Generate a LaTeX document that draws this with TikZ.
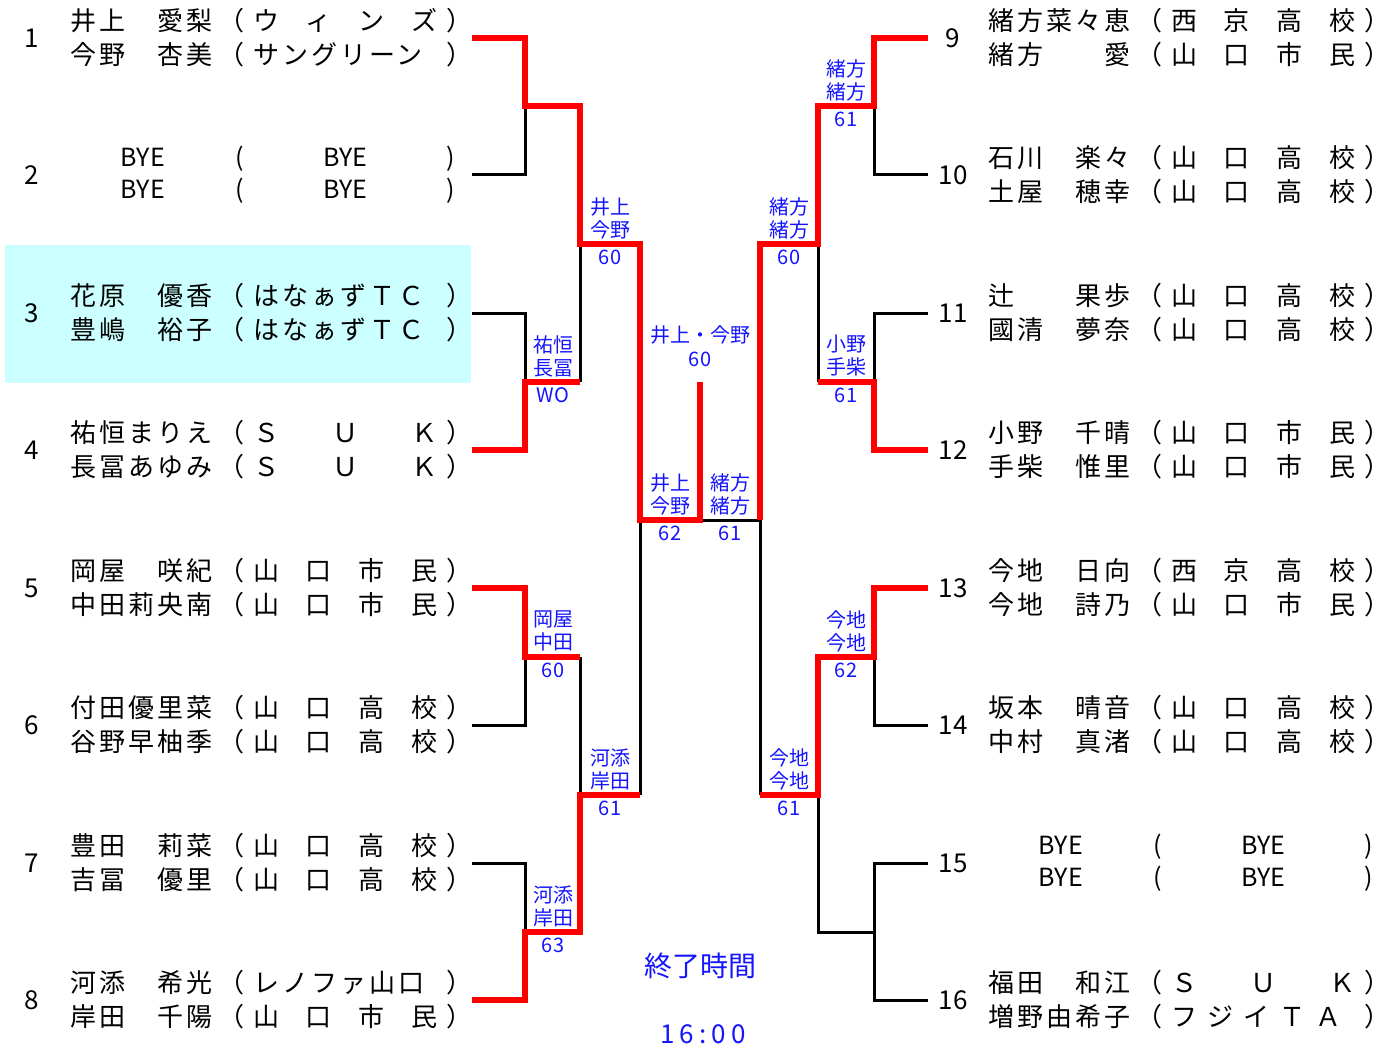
\documentclass[tikz,border=0pt]{standalone}
\usepackage{fontspec}
\usetikzlibrary{positioning}
\setmainfont{Noto Sans CJK JP}
\newfontfamily\jpfont{Noto Sans CJK JP}
\newfontfamily\rowfont{Noto Sans CJK JP}[LetterSpace=11.5]
\definecolor{wincol}{RGB}{255,0,0}
\definecolor{labcol}{RGB}{20,20,255}
\definecolor{seedcol}{RGB}{204,255,255}

% one line of a pair: name, (club)
\newcommand{\pairrow}[2]{\makebox[145pt][l]{#1}\makebox[29pt][r]{（}\hspace{9pt}\makebox[184pt][s]{#2}\hspace{9pt}\makebox[29pt][l]{）}}
\newcommand{\byerow}{\makebox[145pt][c]{BYE}\makebox[29pt][r]{(}\hspace{9pt}\makebox[184pt][c]{BYE}\hspace{9pt}\makebox[29pt][l]{)}}
\newcommand{\shimin}{山\hfill 口\hfill 市\hfill 民}
\newcommand{\yamakou}{山\hfill 口\hfill 高\hfill 校}
\newcommand{\saikyo}{西\hfill 京\hfill 高\hfill 校}
\newcommand{\suk}{Ｓ\hfill Ｕ\hfill Ｋ}

\begin{document}
\begin{tikzpicture}[
    x=1pt, y=-1pt,
    player/.style={anchor=west,align=left,inner sep=0pt,font=\rowfont\fontsize{26}{34}\selectfont},
    byeplayer/.style={player,font=\jpfont\fontsize{25}{32}\selectfont},
    seed/.style={inner sep=0pt,font=\jpfont\fontsize{26}{30}\selectfont},
    lbl/.style={inner sep=0pt,align=center,text=labcol,font=\jpfont\fontsize{20}{23}\selectfont},
    lose/.style={line width=3pt},
    win/.style={line width=6pt,draw=wincol}
  ]
    \useasboundingbox (0,0) rectangle (1394,1051);
    \fill[seedcol] (5,245) rectangle (471,383);

    % left half
    \node[seed] (n1) at (32,38) {1};
    \node[player] (p1) at (70,38) {\pairrow{井上　愛梨}{ウ\hfill ィ\hfill ン\hfill ズ}\\\pairrow{今野　杏美}{サングリーン\hfill}};
    \node[seed] (n2) at (32,175) {2};
    \node[byeplayer] (p2) at (70,175) {\byerow\\\byerow};
    \node[seed] (n3) at (32,313) {3};
    \node[player] (p3) at (70,313) {\pairrow{花原　優香}{はなぁずＴＣ\hfill}\\\pairrow{豊嶋　裕子}{はなぁずＴＣ\hfill}};
    \node[seed] (n4) at (32,450) {4};
    \node[player] (p4) at (70,450) {\pairrow{祐恒まりえ}{\suk}\\\pairrow{長冨あゆみ}{\suk}};
    \node[seed] (n5) at (32,588) {5};
    \node[player] (p5) at (70,588) {\pairrow{岡屋　咲紀}{\shimin}\\\pairrow{中田莉央南}{\shimin}};
    \node[seed] (n6) at (32,725) {6};
    \node[player] (p6) at (70,725) {\pairrow{付田優里菜}{\yamakou}\\\pairrow{谷野早柚季}{\yamakou}};
    \node[seed] (n7) at (32,863) {7};
    \node[player] (p7) at (70,863) {\pairrow{豊田　莉菜}{\yamakou}\\\pairrow{吉冨　優里}{\yamakou}};
    \node[seed] (n8) at (32,1000) {8};
    \node[player] (p8) at (70,1000) {\pairrow{河添　希光}{レノファ山口\hfill}\\\pairrow{岸田　千陽}{\shimin}};

    % right half
    \node[seed] (n9) at (953,38) {9};
    \node[player] (p9) at (988,38) {\pairrow{緒方菜々恵}{\saikyo}\\\pairrow{緒方　　愛}{\shimin}};
    \node[seed] (n10) at (953,175) {10};
    \node[player] (p10) at (988,175) {\pairrow{石川　楽々}{\yamakou}\\\pairrow{土屋　穂幸}{\yamakou}};
    \node[seed] (n11) at (953,313) {11};
    \node[player] (p11) at (988,313) {\pairrow{辻　　果歩}{\yamakou}\\\pairrow{國清　夢奈}{\yamakou}};
    \node[seed] (n12) at (953,450) {12};
    \node[player] (p12) at (988,450) {\pairrow{小野　千晴}{\shimin}\\\pairrow{手柴　惟里}{\shimin}};
    \node[seed] (n13) at (953,588) {13};
    \node[player] (p13) at (988,588) {\pairrow{今地　日向}{\saikyo}\\\pairrow{今地　詩乃}{\shimin}};
    \node[seed] (n14) at (953,725) {14};
    \node[player] (p14) at (988,725) {\pairrow{坂本　晴音}{\yamakou}\\\pairrow{中村　真渚}{\yamakou}};
    \node[seed] (n15) at (953,863) {15};
    \node[byeplayer] (p15) at (988,863) {\byerow\\\byerow};
    \node[seed] (n16) at (953,1000) {16};
    \node[player] (p16) at (988,1000) {\pairrow{福田　和江}{\suk}\\\pairrow{増野由希子}{\makebox[170pt][s]{フ\hfill ジ\hfill イ\hfill Ｔ\hfill Ａ}\hfill}};

    % bracket points
    \coordinate (e1) at (472,38);   \coordinate (e9) at (928,38);
    \coordinate (e2) at (472,175);  \coordinate (e10) at (928,175);
    \coordinate (e3) at (472,313);  \coordinate (e11) at (928,313);
    \coordinate (e4) at (472,450);  \coordinate (e12) at (928,450);
    \coordinate (e5) at (472,588);  \coordinate (e13) at (928,588);
    \coordinate (e6) at (472,725);  \coordinate (e14) at (928,725);
    \coordinate (e7) at (472,863);  \coordinate (e15) at (928,863);
    \coordinate (e8) at (472,1000); \coordinate (e16) at (928,1000);
    \coordinate (cL1) at (525,0);   \coordinate (cR1) at (874,0);
    \coordinate (r1a) at (580,106); \coordinate (r1e) at (818,106);
    \coordinate (r1b) at (580,382); \coordinate (r1f) at (818,382);
    \coordinate (r1c) at (580,657); \coordinate (r1g) at (818,657);
    \coordinate (r1d) at (580,932); \coordinate (r1h) at (818,932);
    \coordinate (r2a) at (640,244); \coordinate (r2c) at (760,244);
    \coordinate (r2b) at (640,795); \coordinate (r2d) at (760,795);
    \coordinate (sfL) at (700,520); \coordinate (sfR) at (760,520);
    \coordinate (fin) at (700,382);

    % lost lines
    \draw[lose] (e2) -| (cL1 |- r1a);
    \draw[lose] (e3) -| (cL1 |- r1b);
    \draw[lose] (r1b) |- (r2a);
    \draw[lose] (e6) -| (cL1 |- r1c);
    \draw[lose] (r1c) |- (r2b);
    \draw[lose] (e7) -| (cL1 |- r1d);
    \draw[lose] (r2b) |- (sfL);
    \draw[lose] (e10) -| (cR1 |- r1e);
    \draw[lose] (e11) -| (cR1 |- r1f);
    \draw[lose] (r1f) |- (r2c);
    \draw[lose] (e14) -| (cR1 |- r1g);
    \draw[lose] (e15) -| (cR1 |- r1h);
    \draw[lose] (e16) -| (cR1 |- r1h) -- (r1h) |- (r2d);
    \draw[lose] (r2d) -- (sfR) -- (sfL);

    % winners
    \draw[win] (e1) -| (cL1 |- r1a) -- (r1a) |- (r2a) |- (sfL) -- (fin);
    \draw[win] (e4) -| (cL1 |- r1b) -- (r1b);
    \draw[win] (e5) -| (cL1 |- r1c) -- (r1c);
    \draw[win] (e8) -| (cL1 |- r1d) -- (r1d) |- (r2b);
    \draw[win] (e9) -| (cR1 |- r1e) -- (r1e) |- (r2c) -- (sfR);
    \draw[win] (e12) -| (cR1 |- r1f) -- (r1f);
    \draw[win] (e13) -| (cR1 |- r1g) -- (r1g) |- (r2d);

    % results
    \node[lbl] (w34) at (553,356) {祐恒\\長冨};   \node[lbl] (s34) at (553,395.5) {WO};
    \node[lbl] (w56) at (553,631) {岡屋\\中田};   \node[lbl] (s56) at (553,670.5) {60};
    \node[lbl] (w78) at (553,906) {河添\\岸田};   \node[lbl] (s78) at (553,945.5) {63};
    \node[lbl] (wqa) at (610,218) {井上\\今野};   \node[lbl] (sqa) at (610,257.5) {60};
    \node[lbl] (wqb) at (610,769) {河添\\岸田};   \node[lbl] (sqb) at (610,808.5) {61};
    \node[lbl] (wsa) at (670,494) {井上\\今野};   \node[lbl] (ssa) at (670,533.5) {62};
    \node[lbl] (wsb) at (730,494) {緒方\\緒方};   \node[lbl] (ssb) at (730,533.5) {61};
    \node[lbl] (wfin) at (700,335) {井上・今野}; \node[lbl] (sfin) at (700,359) {60};
    \node[lbl] (w910) at (846,80) {緒方\\緒方};   \node[lbl] (s910) at (846,119.5) {61};
    \node[lbl] (w1112) at (846,356) {小野\\手柴}; \node[lbl] (s1112) at (846,395.5) {61};
    \node[lbl] (w1314) at (846,631) {今地\\今地}; \node[lbl] (s1314) at (846,670.5) {62};
    \node[lbl] (wqc) at (789,218) {緒方\\緒方};   \node[lbl] (sqc) at (789,257.5) {60};
    \node[lbl] (wqd) at (789,769) {今地\\今地};   \node[lbl] (sqd) at (789,808.5) {61};

    \node[lbl,font=\jpfont\fontsize{28}{30}\selectfont] (endlbl) at (700,966) {終了時間};
    \node[lbl,font=\jpfont\fontsize{26}{28}\selectfont\addfontfeature{LetterSpace=20}] (endtime) at (703,1034) {16:00};
\end{tikzpicture}
\end{document}
